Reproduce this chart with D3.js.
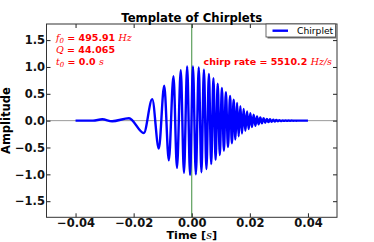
<!DOCTYPE html>
<meta charset="utf-8">
<html>
<head>
    <script src="https://d3js.org/d3.v7.js"></script>
    <style>
        body { margin: 0; background: white; }
        text { font-family: "DejaVu Sans", sans-serif; }
    </style>
</head>
<body>
    <script>

        // chirplet extremes (time in s, amplitude)
        var times = [-0.0400, -0.0340, -0.0308, -0.0274, -0.0216, -0.0165,
            -0.01361, -0.01134, -0.00948, -0.00790, -0.00629, -0.00509, -0.00378, -0.00268,
            -0.00158, -0.00058, 0.00041, 0.00141, 0.00241, 0.00333, 0.00419, 0.00505,
            0.00591, 0.00670, 0.00746, 0.00821, 0.00893, 0.00966, 0.01038, 0.01107,
            0.01175, 0.01247, 0.01320, 0.01381, 0.01443, 0.01502, 0.01560, 0.01615,
            0.01674, 0.01729, 0.01787, 0.01845, 0.01904, 0.01959, 0.02017, 0.02072,
            0.02131, 0.02189, 0.02247, 0.02302, 0.02361, 0.02416, 0.02474, 0.02529,
            0.02584, 0.02639, 0.02694, 0.02749, 0.02804, 0.02856, 0.02911, 0.02962,
            0.03017, 0.03069, 0.03124, 0.03175, 0.03230, 0.03282, 0.03337, 0.03388,
            0.03443, 0.03495, 0.03550, 0.03601, 0.03656, 0.03708, 0.03763, 0.0400];

        var amps = [0, 0, 0.025, -0.012, 0.045, -0.23,
            0.40, -0.52, 0.65, -0.74, 0.83, -0.88, 0.94, -0.97,
            1.01, -1.01, 1.01, -1.00, 0.99, -0.96, 0.95, -0.90,
            0.87, -0.81, 0.79, -0.73, 0.69, -0.64, 0.61, -0.56,
            0.53, -0.49, 0.46, -0.42, 0.39, -0.35, 0.33, -0.29,
            0.27, -0.24, 0.22, -0.19, 0.17, -0.155, 0.14, -0.12,
            0.11, -0.095, 0.08, -0.07, 0.06, -0.05, 0.045, -0.038,
            0.033, -0.028, 0.025, -0.021, 0.018, -0.015, 0.013, -0.011,
            0.009, -0.008, 0.006, -0.005, 0.004, -0.003, 0.003, -0.002,
            0.002, -0.001, 0.001, -0.001, 0.001, 0, 0, 0];

        var xTicks = [-0.04, -0.02, 0.00, 0.02, 0.04];
        var yTicks = [-1.5, -1.0, -0.5, 0.0, 0.5, 1.0, 1.5];

        const width = 374;
        const height = 242;
        const pLeft = 46.5, pRight = 337, pTop = 24, pBottom = 217.3;

        const svg = d3.select('body')
            .append('svg')
            .attr('width', width)
            .attr('height', height);

        const x = d3.scaleLinear().domain([-0.05, 0.05]).range([pLeft, pRight]);
        const y = d3.scaleLinear().domain([-1.8, 1.8]).range([pBottom, pTop]);

        // reference lines
        svg.append('line')
            .attr('x1', pLeft).attr('x2', pRight)
            .attr('y1', y(0)).attr('y2', y(0))
            .attr('stroke', '#999').attr('stroke-width', 1);
        svg.append('line')
            .attr('x1', x(0)).attr('x2', x(0))
            .attr('y1', pTop).attr('y2', pBottom)
            .attr('stroke', '#3c8c3c').attr('stroke-width', 1);

        // waveform
        const data = times.map((t, i) => [t, amps[i]]);
        const line = d3.line()
            .x(d => x(d[0]))
            .y(d => y(d[1]))
            .curve(d3.curveMonotoneX);

        svg.append('path')
            .datum(data)
            .attr('d', line)
            .attr('fill', 'none')
            .attr('stroke', 'blue')
            .attr('stroke-width', 2.4)
            .attr('stroke-linejoin', 'round');

        // axes with ticks pointing inward
        const styleAxis = g => {
            g.select('.domain').remove();
            g.selectAll('line').attr('stroke', '#222');
            g.selectAll('text')
                .attr('fill', '#111')
                .style('font-size', '11.5px')
                .style('font-weight', 'bold');
        };

        svg.append('g')
            .attr('transform', `translate(0,${pBottom})`)
            .call(d3.axisBottom(x).tickValues(xTicks).tickFormat(d3.format('.2f'))
                .tickSizeInner(-4).tickPadding(1.5))
            .call(styleAxis);
        svg.append('g')
            .attr('transform', `translate(0,${pTop})`)
            .call(d3.axisTop(x).tickValues(xTicks).tickFormat('').tickSizeInner(-4))
            .call(styleAxis);
        svg.append('g')
            .attr('transform', `translate(${pLeft},0)`)
            .call(d3.axisLeft(y).tickValues(yTicks).tickFormat(d3.format('.1f'))
                .tickSizeInner(-4).tickPadding(1.5))
            .call(styleAxis);
        svg.append('g')
            .attr('transform', `translate(${pRight},0)`)
            .call(d3.axisRight(y).tickValues(yTicks).tickFormat('').tickSizeInner(-4))
            .call(styleAxis);

        // frame
        svg.append('rect')
            .attr('x', pLeft).attr('y', pTop)
            .attr('width', pRight - pLeft).attr('height', pBottom - pTop)
            .attr('fill', 'none')
            .attr('stroke', '#333')
            .attr('stroke-width', 1);

        // title and axis labels
        svg.append('text')
            .attr('x', (pLeft + pRight) / 2)
            .attr('y', 21.5)
            .attr('text-anchor', 'middle')
            .style('font-size', '11.7px')
            .style('font-weight', 'bold')
            .text('Template of Chirplets');

        const xl = svg.append('text')
            .attr('x', (pLeft + pRight) / 2)
            .attr('y', 239)
            .attr('text-anchor', 'middle')
            .style('font-size', '11.2px')
            .style('font-weight', 'bold');
        xl.append('tspan').text('Time [');
        xl.append('tspan').style('font-family', 'DejaVu Serif').style('font-style', 'italic')
            .style('font-weight', 'normal').text('s');
        xl.append('tspan').text(']');

        svg.append('text')
            .attr('transform', `translate(9.5,${(pTop + pBottom) / 2}) rotate(-90)`)
            .attr('text-anchor', 'middle')
            .style('font-size', '11.5px')
            .style('font-weight', 'bold')
            .text('Amplitude');

        // annotations
        const red = '#ff0000';
        const mathIt = s => s.style('font-family', 'DejaVu Serif').style('font-style', 'italic')
            .style('font-weight', 'normal');

        function note(px, py, parts, anchor) {
            const t = svg.append('text')
                .attr('x', px).attr('y', py)
                .attr('text-anchor', anchor || 'start')
                .attr('fill', red)
                .style('font-size', '9.5px')
                .style('font-weight', 'bold');
            parts.forEach(p => {
                const s = t.append('tspan').text(p.text);
                if (p.math) mathIt(s);
                if (p.sub) s.style('font-size', '7px').attr('dy', 2);
                if (p.up) s.attr('dy', -2);
            });
        }

        note(56, 41, [{ text: 'f', math: true }, { text: '0', math: true, sub: true },
            { text: ' = 495.91 ', up: true }, { text: 'Hz', math: true }]);
        note(56, 53, [{ text: 'Q', math: true }, { text: ' = 44.065' }]);
        note(56, 64.5, [{ text: 't', math: true }, { text: '0', math: true, sub: true },
            { text: ' = 0.0 ', up: true }, { text: 's', math: true }]);
        note(332, 64.5, [{ text: 'chirp rate = 5510.2 ' }, { text: 'Hz/s', math: true }], 'end');

        // legend
        const lg = svg.append('g');
        lg.append('rect')
            .attr('x', 267.5).attr('y', 25.5)
            .attr('width', 69).attr('height', 13)
            .attr('fill', '#777');
        lg.append('rect')
            .attr('x', 266).attr('y', 24)
            .attr('width', 69.5).attr('height', 13)
            .attr('fill', 'white')
            .attr('stroke', '#444').attr('stroke-width', 0.8);
        lg.append('line')
            .attr('x1', 272.5).attr('x2', 288)
            .attr('y1', 30.7).attr('y2', 30.7)
            .attr('stroke', 'blue').attr('stroke-width', 2.4);
        lg.append('text')
            .attr('x', 297).attr('y', 34)
            .style('font-size', '9.2px')
            .text('Chirplet');

    </script>
</body>
</html>
